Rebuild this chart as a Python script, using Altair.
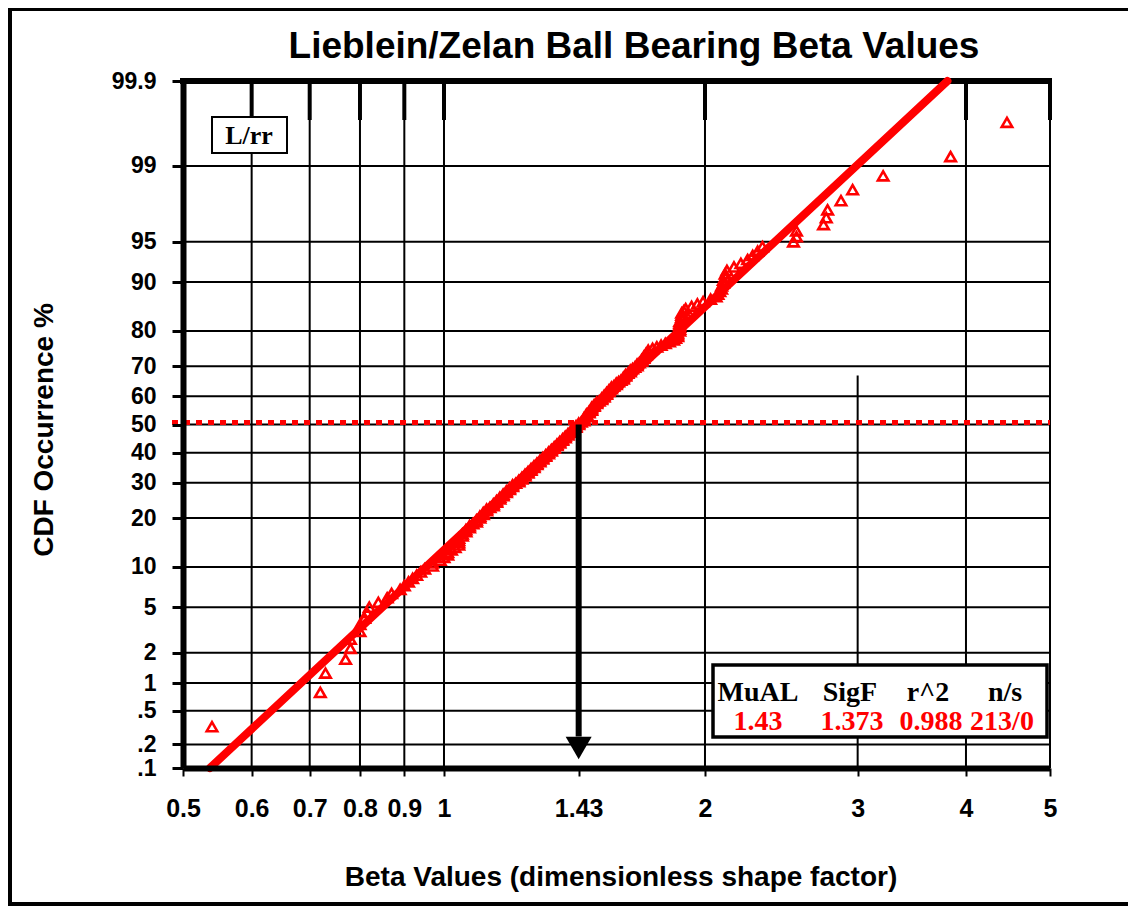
import altair as alt
import pandas as pd
from statistics import NormalDist

# ---------------- data ----------------
beta_values = [
    0.54, 0.72, 0.73, 0.77, 0.78, 0.78, 0.80, 0.80, 0.81, 0.815,
    0.82, 0.84, 0.86, 0.87, 0.89, 0.90, 0.91, 0.92, 0.93, 0.94,
    0.95, 0.97, 0.97, 0.99, 1.00, 1.01, 1.01, 1.02, 1.03, 1.04,
    1.04, 1.04, 1.04, 1.05, 1.05, 1.06, 1.06, 1.07, 1.07, 1.08,
    1.09, 1.09, 1.10, 1.10, 1.11, 1.11, 1.12, 1.12, 1.13, 1.14,
    1.14, 1.15, 1.15, 1.16, 1.16, 1.17, 1.17, 1.18, 1.18, 1.19,
    1.19, 1.20, 1.20, 1.21, 1.22, 1.22, 1.23, 1.23, 1.24, 1.24,
    1.25, 1.25, 1.26, 1.26, 1.27, 1.27, 1.28, 1.28, 1.29, 1.29,
    1.30, 1.30, 1.31, 1.31, 1.32, 1.32, 1.33, 1.33, 1.34, 1.34,
    1.35, 1.35, 1.36, 1.36, 1.37, 1.37, 1.38, 1.38, 1.39, 1.39,
    1.40, 1.40, 1.41, 1.41, 1.42, 1.42, 1.43, 1.43, 1.44, 1.45,
    1.45, 1.45, 1.46, 1.46, 1.46, 1.47, 1.47, 1.48, 1.48, 1.48,
    1.49, 1.49, 1.50, 1.50, 1.51, 1.52, 1.52, 1.53, 1.53, 1.54,
    1.54, 1.55, 1.55, 1.56, 1.56, 1.57, 1.58, 1.58, 1.59, 1.60,
    1.61, 1.61, 1.62, 1.62, 1.63, 1.64, 1.64, 1.65, 1.66, 1.67,
    1.67, 1.68, 1.69, 1.69, 1.70, 1.70, 1.71, 1.71, 1.72, 1.72,
    1.74, 1.76, 1.78, 1.80, 1.82, 1.84, 1.85, 1.86, 1.86, 1.86,
    1.87, 1.87, 1.87, 1.87, 1.87, 1.87, 1.88, 1.88, 1.88, 1.88,
    1.89, 1.90, 1.93, 1.96, 1.99, 2.03, 2.06, 2.07, 2.08, 2.09,
    2.09, 2.10, 2.10, 2.11, 2.11, 2.12, 2.16, 2.20, 2.24, 2.27,
    2.30, 2.33, 2.53, 2.55, 2.55, 2.74, 2.76, 2.77, 2.87, 2.96,
    3.21, 3.84, 4.46,
]
fit_beta = [0.537, 3.808]
fit_pct = [0.1, 99.9]
median_beta = [1.43]
arrow_shaft_pct = [50, 0.25]
arrow_head_pct = [0.18]
x_tick_values = [0.5, 0.6, 0.7, 0.8, 0.9, 1, 1.43, 2, 3, 4, 5]
x_grid_values = [0.6, 0.7, 0.8, 0.9, 1, 2, 3, 4]
x_grid_top_pct = [99.9, 99.9, 99.9, 99.9, 99.9, 99.9, 67, 99.9]
x_top_tick_values = [0.5, 0.6, 0.7, 0.8, 0.9, 1, 2, 4, 5]
y_tick_pct = [99.9, 99, 95, 90, 80, 70, 60, 50, 40, 30, 20, 10, 5, 2, 1, 0.5, 0.2, 0.1]
y_tick_labels = ["99.9", "99", "95", "90", "80", "70", "60", "50", "40", "30",
                 "20", "10", "5", "2", "1", ".5", ".2", ".1"]
y_grid_pct = [99, 95, 90, 80, 70, 60, 50, 40, 30, 20, 10, 5, 2, 1, 0.5, 0.2]
median_line_pct = [50]
stats_headers = ["MuAL", "SigF", "r^2", "n/s"]
stats_values = ["1.43", "1.373", "0.988", "213/0"]
legend_label = "L/rr"
title_text = "Lieblein/Zelan Ball Bearing Beta Values"
x_title = "Beta Values (dimensionless shape factor)"
y_title = "CDF Occurrence %"

# ---------------- layout ----------------
W, H = 867, 687
SANS = "Liberation Sans"
SERIF = "Liberation Serif"
RED = "#ff0000"

nd = NormalDist()


def zq(p):
    return round(nd.inv_cdf(p / 100.0), 6)


y_tick_z = [zq(p) for p in y_tick_pct]
label_expr = " : ".join(
    f"abs(datum.value - ({z})) < 0.001 ? '{l}'" for z, l in zip(y_tick_z, y_tick_labels)
) + " : ''"

xs = alt.Scale(type="log", domain=[0.5, 5], nice=False)
ys = alt.Scale(domain=[zq(0.1), zq(99.9)], nice=False, zero=False)

x_axis = alt.Axis(
    values=x_tick_values, format=".3~g", title=None, grid=False,
    domainColor="black", domainWidth=6, tickColor="black", tickWidth=2, tickSize=8,
    labelFont=SANS, labelFontSize=25, labelFontWeight="bold", labelColor="black",
    labelPadding=20, labelOverlap=False, labelFlush=False, zindex=1,
)
y_axis = alt.Axis(
    values=y_tick_z, labelExpr=label_expr, title=None, grid=False,
    domainColor="black", domainWidth=6, tickColor="black", tickWidth=3, tickSize=11,
    labelFont=SANS, labelFontSize=23, labelFontWeight="bold", labelColor="black",
    labelPadding=16, labelOverlap=False, labelFlush=False, zindex=1,
)


def X(field):
    return alt.X(field, scale=xs, axis=x_axis)


def Y(field):
    return alt.Y(field, scale=ys, axis=y_axis)


one = pd.DataFrame({"k": [0]})

vgrid = alt.Chart(pd.DataFrame({"g": x_grid_values, "top": x_grid_top_pct})).transform_calculate(
    zt="quantileNormal(datum.top / 100)"
).mark_rule(color="black", strokeWidth=2).encode(
    x=X("g:Q"), y=Y("zt:Q"), y2=alt.value(H),
)

hgrid = alt.Chart(pd.DataFrame({"p": y_grid_pct})).transform_calculate(
    z="quantileNormal(datum.p / 100)"
).mark_rule(color="black", strokeWidth=2).encode(
    y=Y("z:Q"), x=alt.value(0), x2=alt.value(W)
)

top_ticks = alt.Chart(pd.DataFrame({"t": x_top_tick_values})).mark_rule(
    color="black", strokeWidth=4
).encode(x=X("t:Q"), y=alt.value(0), y2=alt.value(39))

top_border = alt.Chart(one).mark_rule(color="black", strokeWidth=6).encode(
    x=alt.value(-3), x2=alt.value(W + 2), y=alt.value(0)
)
right_border = alt.Chart(one).mark_rule(color="black", strokeWidth=2).encode(
    x=alt.value(W), y=alt.value(0), y2=alt.value(H)
)

fit = alt.Chart(pd.DataFrame({"beta": fit_beta, "pct": fit_pct})).transform_calculate(
    z="quantileNormal(datum.pct / 100)"
).mark_line(color=RED, strokeWidth=8, strokeCap="round").encode(
    x=X("beta:Q"), y=Y("z:Q")
)

points = alt.Chart(pd.DataFrame({"beta": beta_values})).transform_window(
    rank="row_number()", sort=[alt.SortField("beta", order="ascending")]
).transform_joinaggregate(n="count()").transform_calculate(
    z="quantileNormal((datum.rank - 0.3) / (datum.n + 0.4))"
).mark_point(shape="triangle-up", filled=False, color=RED, size=110, strokeWidth=2.6, opacity=1).encode(
    x=X("beta:Q"), y=Y("z:Q")
)

median_line = alt.Chart(pd.DataFrame({"p": median_line_pct})).transform_calculate(
    z="quantileNormal(datum.p / 100)"
).mark_rule(color=RED, strokeWidth=5, strokeDash=[6, 6], yOffset=-2).encode(
    y=Y("z:Q"), x=alt.value(-11), x2=alt.value(W)
)

shaft = alt.Chart(pd.DataFrame({"beta": median_beta, "p1": [arrow_shaft_pct[0]], "p2": [arrow_shaft_pct[1]]})).transform_calculate(
    z1="quantileNormal(datum.p1 / 100)", z2="quantileNormal(datum.p2 / 100)"
).mark_rule(color="black", strokeWidth=6).encode(
    x=X("beta:Q"), y=Y("z1:Q"), y2="z2:Q",
)
head = alt.Chart(pd.DataFrame({"beta": median_beta, "p": arrow_head_pct})).transform_calculate(
    z="quantileNormal(datum.p / 100)"
).mark_point(shape="triangle-down", filled=True, color="black", size=676, opacity=1).encode(
    x=X("beta:Q"), y=Y("z:Q")
)


def box(x1, x2, y1, y2, sw):
    return alt.Chart(one).mark_rect(fill="white", stroke="black", strokeWidth=sw).encode(
        x=alt.value(x1), x2=alt.value(x2), y=alt.value(y1), y2=alt.value(y2)
    )


def text(txt, x, y, size, font, color="black", angle=0):
    return alt.Chart(pd.DataFrame({"t": [txt]})).mark_text(
        font=font, fontSize=size, fontWeight="bold", color=color,
        align="center", baseline="middle", angle=angle,
    ).encode(x=alt.value(x), y=alt.value(y), text="t:N")


layers = [vgrid, hgrid, top_ticks, top_border, right_border, fit, points,
          median_line, shaft, head]

layers.append(box(29, 104, 36, 72, 2))
layers.append(text(legend_label, 66, 55, 26, SERIF))

layers.append(box(530, 864, 584, 656, 3.5))
for t, x in zip(stats_headers, [575, 667, 745, 822]):
    layers.append(text(t, x, 612, 28, SERIF))
for t, x in zip(stats_values, [575, 669, 748, 819]):
    layers.append(text(t, x, 641, 28, SERIF, color=RED))

layers.append(text(title_text, 451, -34, 37, SANS))
layers.append(text(x_title, 438, 797, 28, SANS))
layers.append(text(y_title, -138, 349, 28, SANS, angle=270))

# outer frame of the figure
layers.append(alt.Chart(one).mark_rule(color="black", strokeWidth=4).encode(
    x=alt.value(-173), y=alt.value(-72), y2=alt.value(823)))
layers.append(alt.Chart(one).mark_rule(color="black", strokeWidth=4).encode(
    x=alt.value(-175), x2=alt.value(960), y=alt.value(-72)))
layers.append(alt.Chart(one).mark_rule(color="black", strokeWidth=4).encode(
    x=alt.value(-175), x2=alt.value(960), y=alt.value(823)))

chart = alt.layer(*layers).properties(
    width=W, height=H,
    padding={"left": 175, "top": 73, "right": 78, "bottom": 138},
    autosize=alt.AutoSizeParams(type="none"),
    background="white",
).configure_view(stroke=None)

chart.save("out.html", embed_options={"renderer": "svg", "actions": False})
